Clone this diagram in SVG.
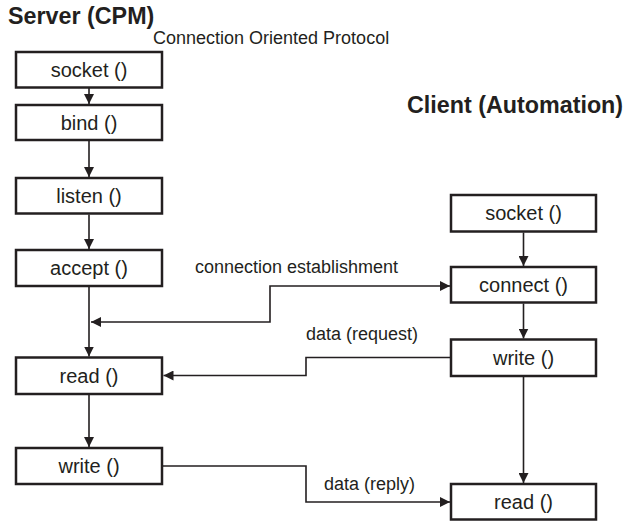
<svg xmlns="http://www.w3.org/2000/svg" width="626" height="521" viewBox="0 0 626 521">
<defs>
<marker id="arr" markerWidth="10" markerHeight="10" refX="10" refY="5" orient="auto-start-reverse" markerUnits="userSpaceOnUse"><path d="M0,0 L10,5 L0,10 z" fill="#231f20"/></marker>
</defs>
<style>
.box{fill:#fff;stroke:#231f20;stroke-width:2.5}
.lbl{font-family:"Liberation Sans",Arial,sans-serif;font-size:20px;fill:#231f20;text-anchor:middle}
.title{font-family:"Liberation Sans",Arial,sans-serif;font-size:23.3px;font-weight:bold;fill:#231f20}
.note{font-family:"Liberation Sans",Arial,sans-serif;font-size:18px;fill:#231f20}
.conn{fill:none;stroke:#231f20;stroke-width:1.6}
</style>
<rect width="626" height="521" fill="#fff"/>
<text class="title" x="8" y="24">Server (CPM)</text>
<text class="note" x="153" y="44">Connection Oriented Protocol</text>
<text class="title" x="407" y="113">Client (Automation)</text>

<g id="connectors">
<path class="conn" d="M89,87.5 V104" marker-end="url(#arr)"/>
<path class="conn" d="M89,141 V177" marker-end="url(#arr)"/>
<path class="conn" d="M89,214.5 V249" marker-end="url(#arr)"/>
<path class="conn" d="M89,287 V356.5" marker-end="url(#arr)"/>
<path class="conn" d="M89,395 V447" marker-end="url(#arr)"/>
<path class="conn" d="M523.5,232.5 V266" marker-end="url(#arr)"/>
<path class="conn" d="M523.5,303.5 V338.5" marker-end="url(#arr)"/>
<path class="conn" d="M523.5,377 V483" marker-end="url(#arr)"/>
<path class="conn" d="M91,322 H270 V286 H450" marker-start="url(#arr)" marker-end="url(#arr)"/>
<path class="conn" d="M450,357.5 H306 V375.5 H163.5" marker-end="url(#arr)"/>
<path class="conn" d="M163,466 H306 V502 H450" marker-end="url(#arr)"/>
<text class="note" x="195" y="273">connection establishment</text>
<text class="note" x="306" y="340">data (request)</text>
<text class="note" x="324" y="490">data (reply)</text>
</g>

<g id="server-socket"><rect class="box" x="16" y="52" width="146" height="35.5"/><text class="lbl" x="89" y="76.5">socket ()</text></g>
<g id="server-bind"><rect class="box" x="16" y="105" width="146" height="35"/><text class="lbl" x="89" y="129.5">bind ()</text></g>
<g id="server-listen"><rect class="box" x="16" y="178" width="146" height="35.5"/><text class="lbl" x="89" y="202.5">listen ()</text></g>
<g id="server-accept"><rect class="box" x="16" y="250" width="146" height="36"/><text class="lbl" x="89" y="275">accept ()</text></g>
<g id="server-read"><rect class="box" x="16" y="357.5" width="146" height="36.5"/><text class="lbl" x="89" y="382.5">read ()</text></g>
<g id="server-write"><rect class="box" x="16" y="448" width="146" height="36"/><text class="lbl" x="89" y="473">write ()</text></g>

<g id="client-socket"><rect class="box" x="451" y="195" width="145" height="36.5"/><text class="lbl" x="523.5" y="220">socket ()</text></g>
<g id="client-connect"><rect class="box" x="451" y="267" width="145" height="35.5"/><text class="lbl" x="523.5" y="291.5">connect ()</text></g>
<g id="client-write"><rect class="box" x="451" y="339.5" width="145" height="36.5"/><text class="lbl" x="523.5" y="364.5">write ()</text></g>
<g id="client-read"><rect class="box" x="451" y="484" width="145" height="35.5"/><text class="lbl" x="523.5" y="508.5">read ()</text></g>
</svg>
